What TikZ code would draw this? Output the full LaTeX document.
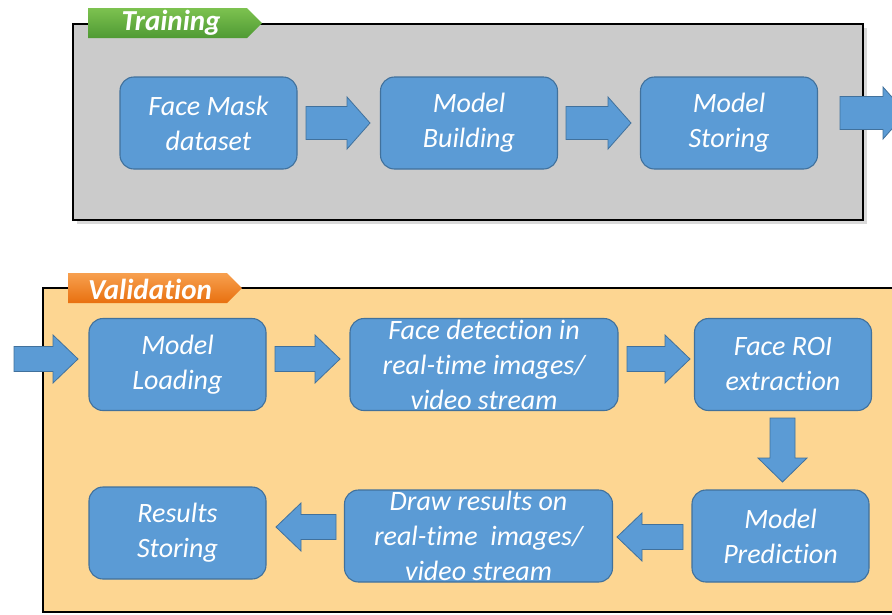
\documentclass[tikz,border=0pt]{standalone}
\usepackage{fontspec}
\setmainfont{Carlito}[Ligatures=NoCommon]
\definecolor{blueb}{HTML}{5B9BD5}
\definecolor{bluedark}{HTML}{41719C}
\definecolor{grayfill}{HTML}{CBCBCB}
\definecolor{orfill}{HTML}{FDD692}
\definecolor{greenA}{HTML}{7DC250}
\definecolor{greenB}{HTML}{4F9A33}
\definecolor{orA}{HTML}{F7A04F}
\definecolor{orB}{HTML}{E8700F}
\newcommand\rarrow[6]{\draw[barr] (#1,{#3-#4}) -- ({#2-#6},{#3-#4}) -- ({#2-#6},{#3-#5}) -- (#2,#3) -- ({#2-#6},{#3+#5}) -- ({#2-#6},{#3+#4}) -- (#1,{#3+#4}) -- cycle;}
\newcommand\larrow[6]{\draw[barr] (#1,{#3-#4}) -- ({#2+#6},{#3-#4}) -- ({#2+#6},{#3-#5}) -- (#2,#3) -- ({#2+#6},{#3+#5}) -- ({#2+#6},{#3+#4}) -- (#1,{#3+#4}) -- cycle;}
\begin{document}
\begin{tikzpicture}[x=1pt,y=-1pt,
  blk/.style={draw=bluedark,fill=blueb,rounded corners=14pt,line width=1.1pt,text=white,
    font=\fontsize{28}{35}\selectfont\itshape,align=center,inner sep=0pt,
    minimum width=177pt,minimum height=92pt},
  wide/.style={minimum width=268pt},
  barr/.style={draw=bluedark,fill=blueb,line width=0.8pt},
  panel/.style={draw=black,line width=2pt},
  tag/.style={text=white,font=\fontsize{29}{30}\selectfont\bfseries\itshape}
]
\useasboundingbox (0,0) rectangle (892,614);
% Training panel
\fill[black!15] (77,28) rectangle (867,224);
\draw[panel,fill=grayfill] (73,24) rectangle (863,220);
\shade[top color=greenA,bottom color=greenB] (88,8) -- (247,8) -- (262,23) -- (247,38) -- (88,38) -- cycle;
\node[tag] (ttag) at (171,23) {Training};
\node[blk] (fm) at (208.5,123) {Face Mask\\dataset};
\node[blk] (mb) at (469,123) {Model\\Building};
\node[blk] (ms) at (729,123) {Model\\Storing};
\rarrow{306}{370}{123}{16.5}{26}{23}
\rarrow{566}{631}{123}{16.5}{26}{23}
\rarrow{840}{906}{113}{16.5}{26}{23}
% Validation panel
\draw[panel,fill=orfill] (43,288) rectangle (900,612);
\shade[top color=orA,bottom color=orB] (68,273) -- (227,273) -- (242,288) -- (227,303) -- (68,303) -- cycle;
\node[tag] (vtag) at (150,289) {Validation};
\node[blk] (ml) at (177.5,364.5) {Model\\Loading};
\node[blk,wide] (fd) at (484,364.5) {Face detection in\\real-time images/\\video stream};
\node[blk] (roi) at (783,364.5) {Face ROI\\extraction};
\node[blk] (mp) at (780.5,536) {Model\\Prediction};
\node[blk,wide] (dr) at (478.5,536) {Draw results on\\real-time~ images/\\video stream};
\node[blk] (rs) at (177.5,533) {Results\\Storing};
\rarrow{14}{78}{359}{12.5}{24}{25}
\rarrow{275}{340}{359}{12.5}{24}{25}
\rarrow{627}{690}{359}{12.5}{24}{25}
\draw[barr] (770,418) -- (795,418) -- (795,458) -- (807,458) -- (782.5,482) -- (758,458) -- (770,458) -- cycle;
\larrow{683}{617}{537}{12.5}{24}{25}
\larrow{336}{276}{527}{12.5}{24}{25}
\end{tikzpicture}
\end{document}
